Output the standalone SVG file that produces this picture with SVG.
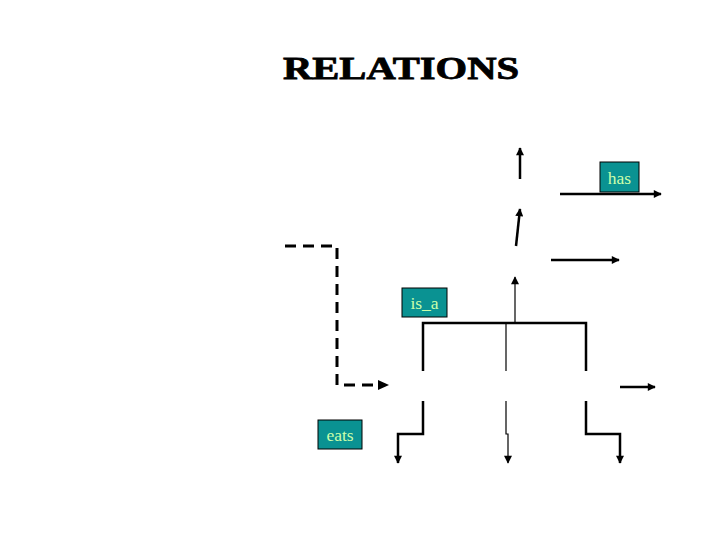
<svg xmlns="http://www.w3.org/2000/svg" width="720" height="540" viewBox="0 0 720 540">
<style>
.box{fill:#0a9292;stroke:#000;stroke-width:1}
.lbl{font-family:"Liberation Serif",serif;font-size:17.5px;fill:#ccffaa}
.c{fill:none;stroke:#000;stroke-width:2.5}
.t{fill:none;stroke:#000;stroke-width:1.2}
.d{fill:none;stroke:#000;stroke-width:3;stroke-dasharray:11,7}
</style>
<defs>
<marker id="ah" viewBox="0 0 10 10" refX="9" refY="5" markerWidth="10" markerHeight="8" markerUnits="userSpaceOnUse" orient="auto">
<path d="M0,0 L10,5 L0,10 z" fill="#000"/>
</marker>
</defs>
<rect width="720" height="540" fill="#fff"/>
<text x="401" y="79" text-anchor="middle" font-family="Liberation Serif,serif" font-weight="bold" font-size="31" stroke="#000" stroke-width="0.8" textLength="236" lengthAdjust="spacingAndGlyphs">RELATIONS</text>
<g id="connectors">
<line class="c" x1="520" y1="179" x2="520" y2="148" marker-end="url(#ah)"/>
<line class="c" x1="516" y1="246" x2="520" y2="209" marker-end="url(#ah)"/>
<line class="c" x1="560" y1="194" x2="661" y2="194" marker-end="url(#ah)"/>
<line class="c" x1="551" y1="260" x2="619" y2="260" marker-end="url(#ah)"/>
<path class="d" d="M285,246 H337 V385 H378"/>
<path d="M378,380 L389,385 L378,390 z" fill="#000"/>
<path class="c" d="M423,371 V323 H586 V371"/>
<line class="t" x1="515" y1="323" x2="515" y2="277" marker-end="url(#ah)"/>
<line class="t" x1="506" y1="323" x2="506" y2="371"/>
<path class="c" d="M423,401 V434 H398 V463" marker-end="url(#ah)"/>
<path class="t" d="M506,401 V434 H508 V463" marker-end="url(#ah)"/>
<path class="c" d="M586,401 V434 H620 V463" marker-end="url(#ah)"/>
<line class="c" x1="620" y1="387" x2="655" y2="387" marker-end="url(#ah)"/>
</g>
<g id="has"><rect class="box" x="600" y="162" width="39" height="30"/><text class="lbl" x="619.5" y="184" text-anchor="middle">has</text></g>
<g id="is_a"><rect class="box" x="402" y="288" width="45" height="29"/><text class="lbl" x="424.5" y="309" text-anchor="middle">is_a</text></g>
<g id="eats"><rect class="box" x="318" y="420" width="44" height="29"/><text class="lbl" x="340" y="441" text-anchor="middle">eats</text></g>
</svg>
